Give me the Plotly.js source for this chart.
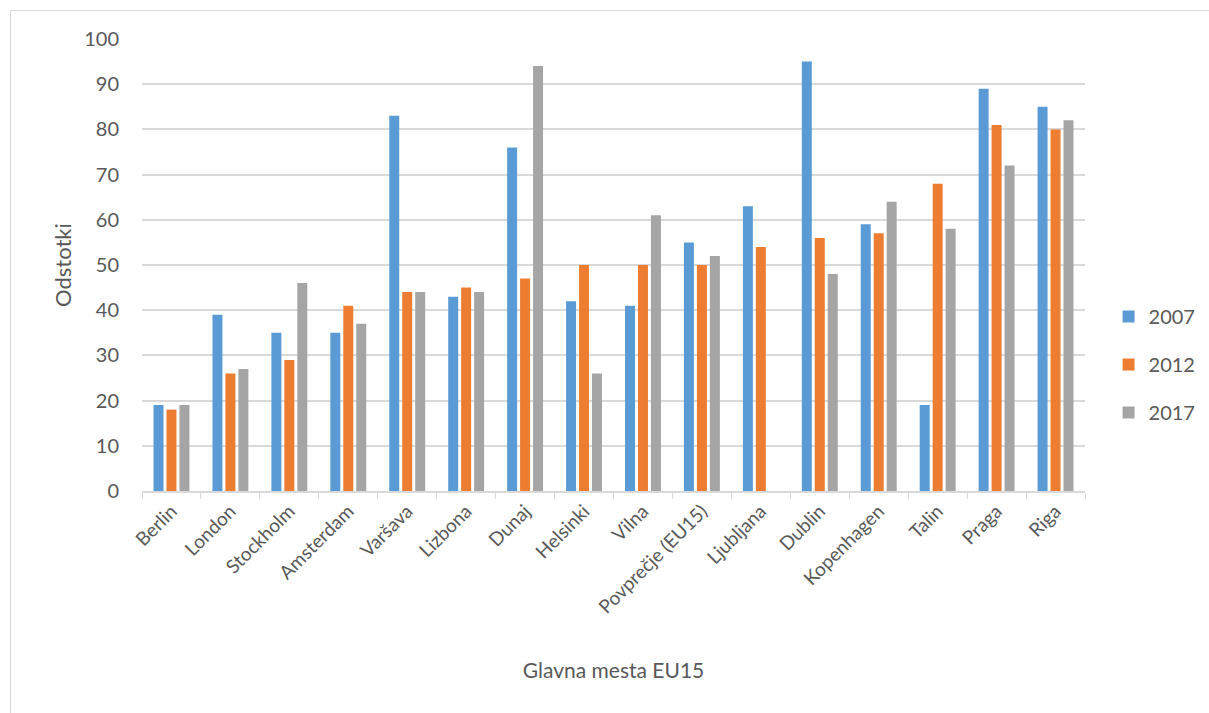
<!DOCTYPE html>
<html>
<head>
<meta charset="utf-8">
<script src="https://cdn.plot.ly/plotly-3.0.1.min.js"></script>
<style>
html,body{margin:0;padding:0;background:#fff;}
#chart{width:1209px;height:713px;position:absolute;left:0;top:0;}
#frame{position:absolute;left:10px;top:10px;width:1260px;height:760px;border:1px solid #d9d9d9;pointer-events:none;}
</style>
</head>
<body>
<div id="chart"></div>
<div id="frame"></div>
<script>
const categories = ["Berlin","London","Stockholm","Amsterdam","Varšava","Lizbona","Dunaj","Helsinki","Vilna","Povprečje (EU15)","Ljubljana","Dublin","Kopenhagen","Talin","Praga","Riga"];
const series2007 = [19,39,35,35,83,43,76,42,41,55,63,95,59,19,89,85];
const series2012 = [18,26,29,41,44,45,47,50,50,50,54,56,57,68,81,80];
const series2017 = [19,27,46,37,44,44,94,26,61,52,null,48,64,58,72,82];
const seriesNames = ["2007","2012","2017"];
const colors = ["#5b9bd5","#ed7d31","#a5a5a5"];

const allSeries = [series2007, series2012, series2017];
const traces = allSeries.map((vals, i) => ({
  type: "bar",
  name: seriesNames[i],
  x: categories,
  y: vals,
  legendgroup: "g" + i,
  marker: {color: colors[i], line: {width: 0}},
  hoverinfo: "x+y+name"
}));

const font = "Lato, 'Open Sans', sans-serif";
const layout = {
  width: 1209,
  height: 713,
  paper_bgcolor: "rgba(0,0,0,0)",
  plot_bgcolor: "#fff",
  margin: {l: 142, r: 124, t: 39, b: 222, autoexpand: false},
  barmode: "group",
  bargap: 0.34,
  bargroupgap: 0.23,
  font: {family: font, color: "#595959", size: 19},
  xaxis: {
    type: "category",
    tickangle: -45,
    tickfont: {size: 19, color: "#595959"},
    showline: true,
    linecolor: "#d9d9d9",
    linewidth: 1.5,
    ticks: "outside",
    tickson: "boundaries",
    ticklen: 6,
    tickcolor: "#d9d9d9",
    showgrid: false,
    title: {text: "Glavna mesta EU15", font: {size: 21, color: "#595959"}, standoff: 47},
    automargin: false
  },
  yaxis: {
    range: [0, 100],
    dtick: 10,
    showgrid: true,
    gridcolor: "#d9d9d9",
    gridwidth: 1.5,
    zeroline: false,
    showline: false,
    ticks: "",
    ticklabelstandoff: 22,
    tickfont: {size: 20, color: "#595959"},
    automargin: false
  },
  annotations: [{
    text: "Odstotki",
    xref: "paper", yref: "paper",
    x: (62 - 142) / 943, y: 0.5,
    xanchor: "center", yanchor: "middle",
    textangle: -90,
    showarrow: false,
    font: {size: 22, color: "#595959", family: font}
  }],
  showlegend: true,
  legend: {
    x: 1.025,
    xanchor: "left",
    y: 0.28,
    yanchor: "middle",
    tracegroupgap: 19,
    font: {size: 20, color: "#595959"},
    itemwidth: 30
  }
};

Plotly.newPlot("chart", traces, layout, {displayModeBar: false, responsive: false});
</script>
</body>
</html>
